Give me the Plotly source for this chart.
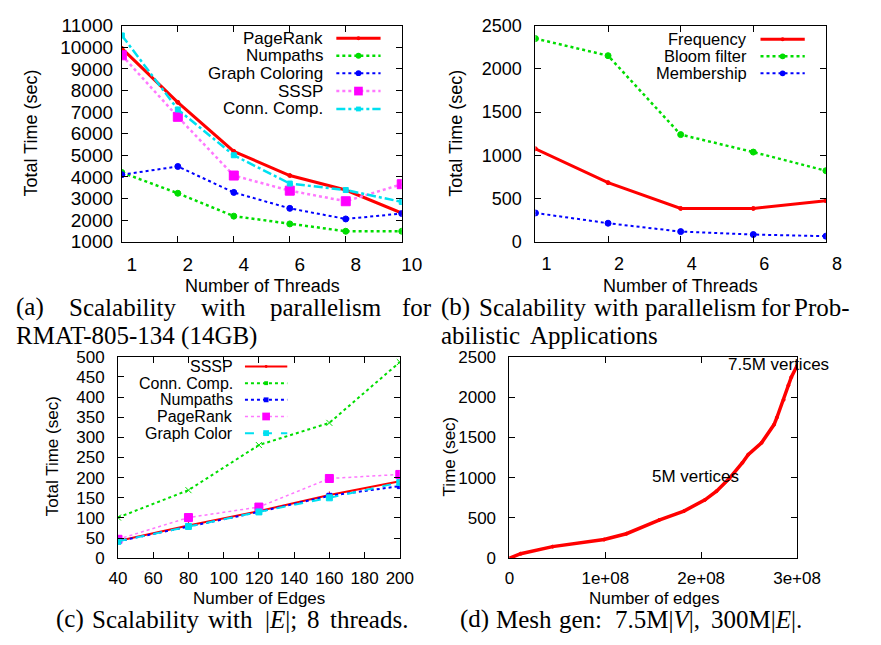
import plotly.graph_objects as go

# The page body keeps an 8px margin, so the figure is 865x629 and every
# reference pixel position is shifted by 8px.
W, H = 865, 629
OFF = 8


def px(x):
    return (x - OFF) / W


def py(y):
    return 1 - (y - OFF) / H


# ---------------- data ----------------
# (a) scalability with parallelism, RMAT-805-134
threads_a = ["1", "2", "4", "6", "8", "10"]
pagerank_a = [9950, 7450, 5180, 4060, 3390, 2320]
numpaths_a = [4200, 3240, 2180, 1820, 1480, 1480]
graphcol_a = [4100, 4480, 3280, 2540, 2050, 2300]
sssp_a = [9630, 6780, 4060, 3360, 2870, 3660]
conncomp_a = [10550, 7120, 5000, 3690, 3390, 2840]

# (b) probabilistic applications
threads_b = ["1", "2", "4", "6", "8"]
frequency_b = [1075, 683, 384, 384, 474]
bloom_b = [2351, 2153, 1239, 1037, 821]
membership_b = [332, 213, 116, 82, 63]

# (c) scalability with |E|
edges_c = [40, 80, 120, 160, 200]
sssp_c = [43, 81, 117, 157, 191]
conn_c = [101, 169, 281, 336, 487]
numpaths_c = [42, 79, 115, 155, 179]
pagerank_c = [47, 101, 127, 198, 208]
graphcolor_c = [42, 79, 115, 150, 188]

# (d) mesh generation
mesh_edges = [0, 0.117e8, 0.45e8, 0.987e8, 1.22e8, 1.56e8, 1.82e8, 2.04e8, 2.16e8,
              2.29e8, 2.43e8, 2.49e8, 2.63e8, 2.76e8, 2.79e8, 2.86e8, 2.91e8, 2.94e8, 3.0e8]
mesh_time = [0, 56, 144, 232, 304, 473, 585, 725, 833,
             986, 1186, 1286, 1434, 1659, 1747, 1967, 2147, 2248, 2388]

# ---------------- styles ----------------
RED = "#ff0000"
GREEN = "#00dd00"
BLUE = "#0000ff"
MAG = "#ff00ff"
MAGL = "#ff77ff"
CYAN = "#00e0f0"
SANS = "Liberation Sans"
SERIF = "Liberation Serif"

fig = go.Figure()


def add(x, y, ax, color, width, dash, symbol, msize, lcolor=None):
    fig.add_trace(go.Scatter(
        x=x, y=y, xaxis="x" + ax, yaxis="y" + ax, mode="lines+markers",
        line=dict(color=lcolor or color, width=width, dash=dash),
        marker=dict(color=color, size=msize, symbol=symbol,
                    line=dict(width=1, color=color)),
        showlegend=False, hoverinfo="skip"))


# (a)
add(threads_a, pagerank_a, "", RED, 3, "solid", "circle", 4)
add(threads_a, numpaths_a, "", GREEN, 2.5, "dot", "circle", 6)
add(threads_a, graphcol_a, "", BLUE, 2, "dot", "circle", 6)
add(threads_a, sssp_a, "", MAG, 2.5, "dot", "square", 9, MAGL)
add(threads_a, conncomp_a, "", CYAN, 2.5, "dashdot", "square", 5)
# (b)
add(threads_b, frequency_b, "2", RED, 3, "solid", "circle", 4)
add(threads_b, bloom_b, "2", GREEN, 2.5, "dot", "circle", 6)
add(threads_b, membership_b, "2", BLUE, 2, "dot", "circle", 6)
# (c)
add(edges_c, sssp_c, "3", RED, 2, "solid", "cross-thin", 5)
add(edges_c, conn_c, "3", GREEN, 2, "dot", "x-thin", 6)
add(edges_c, numpaths_c, "3", BLUE, 2, "dot", "square", 5)
add(edges_c, pagerank_c, "3", MAG, 1.5, "dot", "square", 8, MAGL)
add(edges_c, graphcolor_c, "3", CYAN, 2, "dash", "square", 6)
# (d)
add(mesh_edges, mesh_time, "4", RED, 3.5, "solid", "circle", 3)


def axis(domain, anchor, fs, **kw):
    d = dict(domain=domain, anchor=anchor, showline=True, linecolor="black",
             linewidth=1, mirror="ticks", ticks="inside", ticklen=6,
             tickcolor="black", showgrid=False, zeroline=False,
             tickfont=dict(family=SANS, size=fs, color="black"))
    d.update(kw)
    return d


# panel boxes (reference pixels: left, right, top, bottom)
A = (117, 408, 17, 240)
B = (547, 849, 17, 240)
C = (113, 406, 359, 567)
D = (520, 819, 359, 567)


def xd(p):
    return [px(p[0]), px(p[1])]


def yd(p):
    return [py(p[3]), py(p[2])]


fig.update_layout(
    width=W, height=H, margin=dict(l=0, r=0, t=0, b=0),
    paper_bgcolor="white", plot_bgcolor="white",
    xaxis=axis(xd(A), "y", 19, type="category", range=[0, 5], ticklabelshift=10,
               ticklabelstandoff=6),
    yaxis=axis(yd(A), "x", 19, range=[1000, 11000], dtick=1000, tickformat="d",
               ticklabelstandoff=4),
    xaxis2=axis(xd(B), "y2", 18, type="category", range=[0, 4], ticklabelshift=11,
                ticklabelstandoff=6),
    yaxis2=axis(yd(B), "x2", 18, range=[0, 2500], dtick=500, tickformat="d",
                ticklabelstandoff=9),
    xaxis3=axis(xd(C), "y3", 17, range=[40, 200], dtick=20, ticklabelstandoff=4),
    yaxis3=axis(yd(C), "x3", 17, range=[0, 500], dtick=50, ticklabelstandoff=9),
    xaxis4=axis(xd(D), "y4", 17, range=[0, 3e8], tickvals=[0, 1e8, 2e8, 3e8],
                ticktext=["0", "1e+08", "2e+08", "3e+08"], ticklabelstandoff=4),
    yaxis4=axis(yd(D), "x4", 17, range=[0, 2500], dtick=500, tickformat="d",
                ticklabelstandoff=9),
)

ann = []
shapes = []


def text(x, y, s, size, family=SANS, xanchor="center", angle=0):
    ann.append(dict(x=px(x), y=py(y), xref="paper", yref="paper", text=s,
                    showarrow=False, xanchor=xanchor, yanchor="middle",
                    textangle=angle,
                    font=dict(family=family, size=size, color="black")))


# axis titles
text(263, 286, "Number of Threads", 18)
text(23, 128, "Total Time (sec)", 18, angle=-90)
text(698, 286, "Number of Threads", 18)
text(465, 128, "Total Time (sec)", 18, angle=-90)
text(260, 609, "Number of Edges", 17)
text(45, 462, "Total Time (sec)", 17, angle=-90)
text(670, 609, "Number of edges", 17)
text(458, 462, "Time (sec)", 17, angle=-90)

# annotations in (d)
text(800, 367, "7.5M vertices", 17)
text(713, 483, "5M vertices", 17)


# legends (gnuplot style: label right-aligned, sample to the right)
def legend_entry(xr, xs0, xs1, y, label, color, width, dash, sym, msize, size, lcolor=None):
    text(xr, y, label, size, xanchor="right")
    shapes.append(dict(type="line", xref="paper", yref="paper",
                       x0=px(xs0), x1=px(xs1), y0=py(y), y1=py(y),
                       line=dict(color=lcolor or color, width=width, dash=dash)))
    xm = (xs0 + xs1) / 2
    h = msize / 2
    shapes.append(dict(type="circle" if sym == "circle" else "rect",
                       xref="paper", yref="paper",
                       x0=px(xm - h), x1=px(xm + h), y0=py(y + h), y1=py(y - h),
                       fillcolor=color, line=dict(color=color, width=0)))


la = [("PageRank", RED, 3, "solid", "circle", 4, None),
      ("Numpaths", GREEN, 2.5, "dot", "circle", 6, None),
      ("Graph Coloring", BLUE, 2, "dot", "circle", 6, None),
      ("SSSP", MAG, 2.5, "dot", "rect", 9, MAGL),
      ("Conn. Comp.", CYAN, 2.5, "dashdot", "rect", 5, None)]
rows_a = [30, 48, 66, 84.5, 103]
for (lab, c, w, d, s, m, lc), yy in zip(la, rows_a):
    legend_entry(328, 340, 386, yy, lab, c, w, d, s, m, 17, lc)

lb = [("Frequency", RED, 3, "solid", "circle", 4, None),
      ("Bloom filter", GREEN, 2.5, "dot", "circle", 6, None),
      ("Membership", BLUE, 2, "dot", "circle", 6, None)]
for i, (lab, c, w, d, s, m, lc) in enumerate(lb):
    legend_entry(769, 781, 827, 31 + i * 17.6, lab, c, w, d, s, m, 16.5, lc)

lc_ = [("SSSP", RED, 2, "solid", "circle", 3, None),
       ("Conn. Comp.", GREEN, 2, "dot", "rect", 4, None),
       ("Numpaths", BLUE, 2, "dot", "rect", 5, None),
       ("PageRank", MAG, 1.5, "dot", "rect", 8, MAGL),
       ("Graph Color", CYAN, 2, "dash", "rect", 6, None)]
for i, (lab, c, w, d, s, m, lc) in enumerate(lc_):
    legend_entry(235, 245, 289, 369 + i * 17.2, lab, c, w, d, s, m, 16, lc)

# captions (LaTeX-style justified serif text, word by word)
CS = 25
caption_words = [
    ("(a)", 22, 308), ("Scalability", 117.5, 308), ("with", 222.5, 308),
    ("parallelism", 329, 308), ("for", 423.5, 308),
    ("RMAT-805-134 (14GB)", 132.5, 337),
    ("(b)", 464, 308), ("Scalability", 543.5, 308), ("with", 631.5, 308),
    ("parallelism", 719, 308), ("for", 797, 308), ("Prob-", 845, 308),
    ("abilistic", 490, 337), ("Applications", 607.5, 337),
    ("(c)", 63.5, 630), ("Scalability", 142, 630), ("with", 230, 630),
    ("|<i>E</i>|;", 282.5, 630), ("8", 316, 630), ("threads.", 373.5, 630),
    ("(d)", 483.5, 630), ("Mesh", 535.5, 630), ("gen:", 594, 630),
    ("7.5M|<i>V</i>|,", 674, 630), ("300M|<i>E</i>|.", 777, 630),
]
for w_, x_, y_ in caption_words:
    text(x_, y_, w_, CS, family=SERIF)

fig.update_layout(annotations=ann, shapes=shapes)

fig.write_html("out.html", config={"displayModeBar": False})
